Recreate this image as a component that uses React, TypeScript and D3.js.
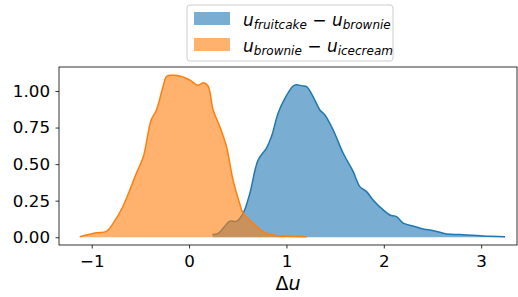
import { useEffect, useRef } from "react";
import * as d3 from "d3";

// density estimates
const fruitcakeX = [0.24, 0.30, 0.36, 0.418, 0.487, 0.555, 0.624, 0.71, 0.795, 0.847, 0.915, 0.984, 1.069, 1.103, 1.16, 1.207, 1.29, 1.343, 1.395, 1.48, 1.583, 1.686, 1.754, 1.823, 1.89, 1.994, 2.063, 2.13, 2.2, 2.30, 2.405, 2.51, 2.645, 2.78, 3.02, 3.245];
const fruitcakeY = [0.018, 0.027, 0.07, 0.11, 0.11, 0.164, 0.30, 0.53, 0.61, 0.69, 0.85, 0.95, 1.034, 1.043, 1.035, 1.03, 0.94, 0.87, 0.836, 0.733, 0.574, 0.449, 0.346, 0.312, 0.255, 0.187, 0.152, 0.141, 0.096, 0.077, 0.057, 0.045, 0.023, 0.018, 0.009, 0.004];

const icecreamX = [-1.123, -0.95, -0.85, -0.78, -0.68, -0.54, -0.47, -0.39, -0.335, -0.267, -0.23, -0.165, -0.08, 0.007, 0.09, 0.15, 0.195, 0.247, 0.316, 0.384, 0.452, 0.52, 0.555, 0.658, 0.76, 0.898, 1.05, 1.207];
const icecreamY = [0.004, 0.03, 0.04, 0.095, 0.21, 0.44, 0.55, 0.80, 0.87, 1.03, 1.10, 1.107, 1.10, 1.075, 1.04, 1.057, 1.034, 0.87, 0.756, 0.62, 0.39, 0.23, 0.164, 0.096, 0.038, 0.011, 0.006, 0.004];

const xTicks = [-1, 0, 1, 2, 3];
const yTicks = [0, 0.25, 0.5, 0.75, 1.0];

const width = 518;
const height = 297;
const margin = { top: 67, right: 1, bottom: 52, left: 59 };

const drawChart = (node: SVGSVGElement) => {
  const svg = d3.select(node);
  svg.selectAll("*").remove();

  const x = d3.scaleLinear().domain([-1.336, 3.368]).range([margin.left, width - margin.right]);
  const y = d3.scaleLinear().domain([-0.053, 1.164]).range([height - margin.bottom, margin.top]);

  const series = [
    { xs: fruitcakeX, ys: fruitcakeY, color: "#1f77b4" },
    { xs: icecreamX, ys: icecreamY, color: "#ff7f0e" },
  ];

  const area = d3.area<[number, number]>()
    .x(d => x(d[0]))
    .y0(y(0))
    .y1(d => y(d[1]))
    .curve(d3.curveCatmullRom);
  const line = d3.line<[number, number]>()
    .x(d => x(d[0]))
    .y(d => y(d[1]))
    .curve(d3.curveCatmullRom);

  series.forEach(s => {
    const pts: [number, number][] = s.xs.map((v, i) => [v, s.ys[i]]);
    svg.append("path").attr("d", area(pts)).attr("fill", s.color).attr("fill-opacity", 0.6);
    svg.append("path").attr("d", line(pts)).attr("fill", "none").attr("stroke", s.color).attr("stroke-width", 1.5);
  });

  // axes
  svg.append("g")
    .attr("transform", `translate(0,${height - margin.bottom})`)
    .call(d3.axisBottom(x).tickValues(xTicks).tickSize(3.5).tickPadding(6.5)
      .tickFormat(d => (d as number) < 0 ? `\u2212${Math.abs(d as number)}` : `${d}`))
    .call(g => g.select(".domain").remove())
    .call(g => g.selectAll("line").attr("stroke-width", 0.8))
    .call(g => g.selectAll("text").attr("font-size", 16.7).attr("font-family", "DejaVu Sans").attr("fill", "#000"));

  svg.append("g")
    .attr("transform", `translate(${margin.left},0)`)
    .call(d3.axisLeft(y).tickValues(yTicks).tickSize(3.5).tickPadding(5.5).tickFormat(d3.format(".2f")))
    .call(g => g.select(".domain").remove())
    .call(g => g.selectAll("line").attr("stroke-width", 0.8))
    .call(g => g.selectAll("text").attr("font-size", 16.7).attr("font-family", "DejaVu Sans").attr("fill", "#000"));

  // frame
  svg.append("rect")
    .attr("x", margin.left).attr("y", margin.top)
    .attr("width", width - margin.right - margin.left)
    .attr("height", height - margin.bottom - margin.top)
    .attr("fill", "none").attr("stroke", "#000").attr("stroke-width", 0.8);

  // x label
  const xl = svg.append("text")
    .attr("x", (margin.left + width - margin.right) / 2)
    .attr("y", 290)
    .attr("text-anchor", "middle")
    .attr("font-family", "DejaVu Sans")
    .attr("font-size", 19);
  xl.append("tspan").text("\u0394");
  xl.append("tspan").attr("font-style", "italic").text("u");

  // legend
  const lg = svg.append("g");
  lg.append("rect")
    .attr("x", 187).attr("y", 5).attr("width", 206).attr("height", 56).attr("rx", 3)
    .attr("fill", "#fff").attr("fill-opacity", 0.8)
    .attr("stroke", "#ccc").attr("stroke-width", 1);

  const entries = [
    { a: "fruitcake", b: "brownie", color: "#1f77b4" },
    { a: "brownie", b: "icecream", color: "#ff7f0e" },
  ];
  entries.forEach((e, i) => {
    const yy = 12 + i * 26;
    lg.append("rect").attr("x", 194).attr("y", yy).attr("width", 36).attr("height", 13)
      .attr("fill", e.color).attr("fill-opacity", 0.6);
    const t = lg.append("text")
      .attr("x", 243).attr("y", yy + 14)
      .attr("font-family", "DejaVu Sans").attr("font-size", 17);
    t.append("tspan").attr("font-style", "italic").text("u");
    t.append("tspan").attr("font-style", "italic").attr("font-size", 12).attr("dy", 3).text(e.a);
    t.append("tspan").attr("dy", -3).text(" \u2212 ");
    t.append("tspan").attr("font-style", "italic").text("u");
    t.append("tspan").attr("font-style", "italic").attr("font-size", 12).attr("dy", 3).text(e.b);
  });
};

export default function App() {
  const ref = useRef<SVGSVGElement>(null);
  useEffect(() => {
    if (ref.current) drawChart(ref.current);
  }, []);
  return (
    <svg ref={ref} width={width} height={height}
      style={{ position: "absolute", left: 0, top: 0, background: "#fff" }} />
  );
}
